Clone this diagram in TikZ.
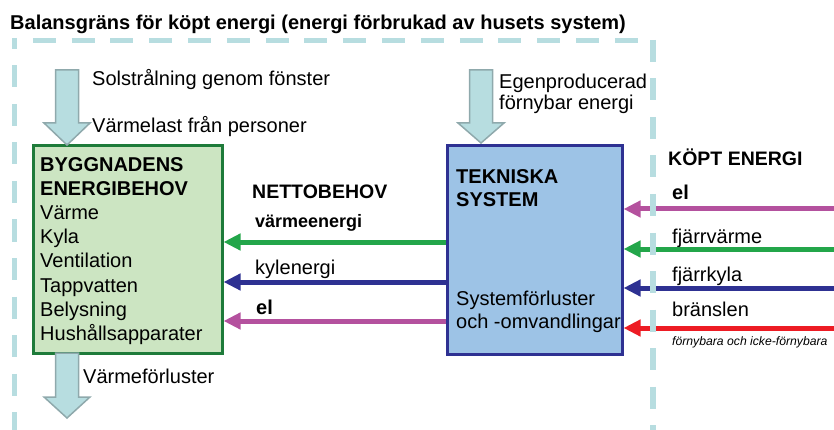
\documentclass[tikz,border=0pt]{standalone}
\usepackage{fontspec}
\setmainfont{Liberation Sans}
\usetikzlibrary{arrows.meta}
\definecolor{dashc}{HTML}{B7DDE0}
\definecolor{arrfill}{HTML}{B7DDE0}
\definecolor{arrborder}{HTML}{8FA9AC}
\definecolor{greenf}{HTML}{CCE5C2}
\definecolor{greenb}{HTML}{1E7B3A}
\definecolor{bluef}{HTML}{9DC3E6}
\definecolor{blueb}{HTML}{2E3192}
\definecolor{greenl}{HTML}{23A64A}
\definecolor{navyl}{HTML}{2E3192}
\definecolor{magl}{HTML}{B4519E}
\definecolor{redl}{HTML}{ED1C24}
\newcommand\blockarr[4]{%
  \draw[blk] (#1-11.5,#2) -- (#1+11.5,#2) -- (#1+11.5,#3) -- (#1+23,#3) -- (#1,#4) -- (#1-23,#3) -- (#1-11.5,#3) -- cycle;}
\begin{document}
\begin{tikzpicture}[x=1pt,y=-1pt,
  txt/.style={anchor=base west, inner sep=0pt, font=\fontsize{20}{24}\selectfont},
  btxt/.style={anchor=base west, inner sep=0pt, font=\fontsize{20}{24}\selectfont\bfseries},
  flow/.style={line width=5pt, -{Triangle[length=17pt,width=16pt]}},
  bound/.style={dashc, line width=5.5pt},
  blk/.style={fill=arrfill, draw=arrborder, line width=1.5pt, line join=miter},
  boxg/.style={draw=greenb, fill=greenf, line width=3pt, anchor=north west, inner sep=0pt},
  boxb/.style={draw=blueb, fill=bluef, line width=3pt, anchor=north west, inner sep=0pt}
]
\useasboundingbox (0,0) rectangle (834,430);

% title
\node[anchor=base west, inner sep=0pt, font=\fontsize{20}{24}\selectfont\bfseries] (title) at (10,29.5) {Balansgräns för köpt energi (energi förbrukad av husets system)};

% boxes
\node[boxg, minimum width=189pt, minimum height=207pt] (bygg) at (31.5,144.5) {};
\node[boxb, minimum width=175pt, minimum height=208pt] (tek) at (445.5,144.5) {};

% block arrows
\blockarr{67}{70}{123}{145}
\blockarr{481}{70}{123}{143}
\blockarr{67}{353}{397}{418}

% texts left top
\node[txt] (sol) at (92,86) {Solstrålning genom fönster};
\node[txt] (varmelast) at (92,133) {Värmelast från personer};
\node[txt] (egen) at (499,88.3) {Egenproducerad};
\node[txt] (fornybar) at (499,110) {förnybar energi};

% green box texts
\node[btxt] (b1) at (40,171.5) {BYGGNADENS};
\node[btxt] (b2) at (40,195.5) {ENERGIBEHOV};
\node[txt] (b3) at (40,219.7) {Värme};
\node[txt] (b4) at (40,243.8) {Kyla};
\node[txt] (b5) at (40,267.9) {Ventilation};
\node[txt] (b6) at (40,292) {Tappvatten};
\node[txt] (b7) at (40,316) {Belysning};
\node[txt] (b8) at (40,340) {Hushållsapparater};
\node[txt] (vforl) at (83,383) {Värmeförluster};

% tech box texts
\node[btxt] (t1) at (456,183.3) {TEKNISKA};
\node[btxt] (t2) at (456,206.7) {SYSTEM};
\node[txt] (t3) at (456,305) {Systemförluster};
\node[txt] (t4) at (456,328) {och -omvandlingar};

% netto
\node[btxt, font=\fontsize{19.5}{23}\selectfont\bfseries] (netto) at (252,199) {NETTOBEHOV};
\node[btxt, font=\fontsize{18}{22}\selectfont\bfseries] (ve) at (255,227) {värmeenergi};
\node[txt] (ke) at (255,274) {kylenergi};
\node[btxt] (elL) at (256,314) {el};

% köpt energi
\node[btxt, font=\fontsize{19.5}{23}\selectfont\bfseries] (kopt) at (668,166) {KÖPT ENERGI};
\node[btxt] (elR) at (672,199.3) {el};
\node[txt] (fv) at (672,243) {fjärrvärme};
\node[txt] (fk) at (672,281.7) {fjärrkyla};
\node[txt] (br) at (672,316) {bränslen};
\node[anchor=base west, inner sep=0pt, font=\fontsize{12.2}{14}\selectfont\itshape] (fnb) at (672,345) {förnybara och icke-förnybara};

% flows left
\draw[flow, greenl] (tek.west |- 0,242) -- (bygg.east |- 0,242);
\draw[flow, navyl] (tek.west |- 0,282) -- (bygg.east |- 0,282);
\draw[flow, magl] (tek.west |- 0,321) -- (bygg.east |- 0,321);

% flows right
\coordinate (inEl) at (834,209);
\coordinate (inFv) at (834,249);
\coordinate (inFk) at (834,288);
\coordinate (inBr) at (834,328);
\draw[flow, magl] (inEl) -- (tek.east |- inEl);
\draw[flow, greenl] (inFv) -- (tek.east |- inFv);
\draw[flow, navyl] (inFk) -- (tek.east |- inFk);
\draw[flow, redl] (inBr) -- (tek.east |- inBr);

% boundary
\draw[bound, dash pattern=on 23pt off 15.8pt, dash phase=18pt] (12,40.5) -- (650,40.5);
\draw[bound, dash pattern=on 22pt off 16.5pt, dash phase=11pt] (14.5,38) -- (14.5,430);
\draw[bound, dash pattern=on 22pt off 16.5pt] (653,40) -- (653,430);
\end{tikzpicture}
\end{document}
